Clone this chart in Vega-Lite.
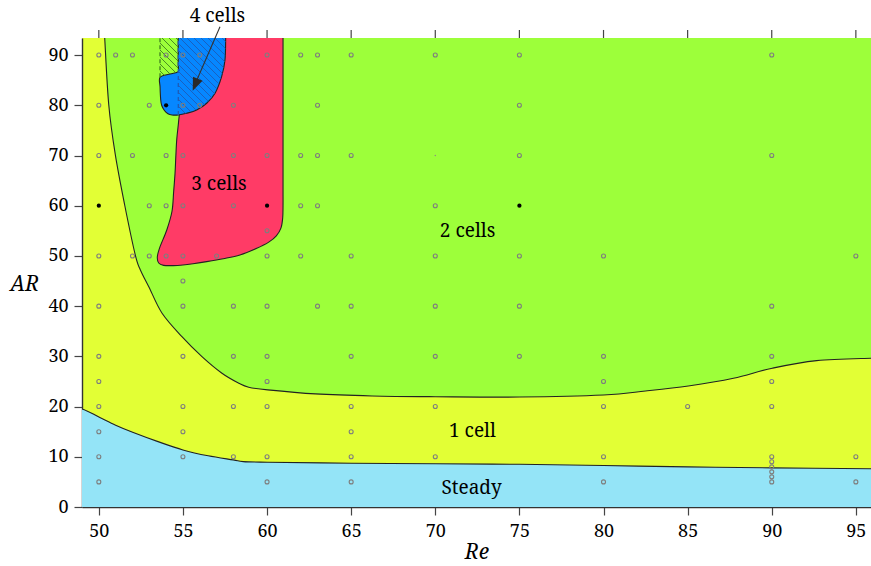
{
  "$schema": "https://vega.github.io/schema/vega-lite/v6.json",
  "autosize": {"type": "none"},
  "padding": {"left": 82, "top": 38, "right": 0, "bottom": 59},
  "width": 789,
  "height": 469,
  "background": "white",
  "config": {
    "view": {"stroke": null, "fill": "#E2FF35"},
    "axis": {"labelFont": "Noto Serif", "labelFontSize": 18, "labelColor": "#000000", "tickColor": "#444444", "tickSize": 8, "tickWidth": 1.2, "domain": true, "domainColor": "#333333", "domainWidth": 1.4, "zindex": 1, "grid": false, "titleFont": "Noto Serif", "titleFontSize": 21, "titleFontStyle": "italic", "titleFontWeight": "normal", "titleColor": "#000000"}
  },
  "datasets": {
    "regions": [
      {"region": "steady", "i": 0, "Re": 48, "AR": -3},
      {"region": "steady", "i": 1, "Re": 48, "AR": 19.9},
      {"region": "steady", "i": 2, "Re": 49, "AR": 19.53},
      {"region": "steady", "i": 3, "Re": 50.03, "AR": 17.88},
      {"region": "steady", "i": 4, "Re": 51, "AR": 16.3},
      {"region": "steady", "i": 5, "Re": 52.01, "AR": 14.89},
      {"region": "steady", "i": 6, "Re": 53.52, "AR": 13.02},
      {"region": "steady", "i": 7, "Re": 55.0, "AR": 11.37},
      {"region": "steady", "i": 8, "Re": 56.5, "AR": 10.2},
      {"region": "steady", "i": 9, "Re": 57.99, "AR": 9.38},
      {"region": "steady", "i": 10, "Re": 58.59, "AR": 9.04},
      {"region": "steady", "i": 11, "Re": 60.04, "AR": 8.92},
      {"region": "steady", "i": 12, "Re": 65.03, "AR": 8.72},
      {"region": "steady", "i": 13, "Re": 70, "AR": 8.6},
      {"region": "steady", "i": 14, "Re": 75, "AR": 8.5},
      {"region": "steady", "i": 15, "Re": 80, "AR": 8.25},
      {"region": "steady", "i": 16, "Re": 85, "AR": 8.0},
      {"region": "steady", "i": 17, "Re": 90, "AR": 7.8},
      {"region": "steady", "i": 18, "Re": 96, "AR": 7.6},
      {"region": "steady", "i": 19, "Re": 98, "AR": 7.6},
      {"region": "steady", "i": 20, "Re": 98, "AR": -3},
      {"region": "green", "i": 0, "Re": 50.31, "AR": 96},
      {"region": "green", "i": 1, "Re": 50.35, "AR": 93.4},
      {"region": "green", "i": 2, "Re": 50.59, "AR": 80.12},
      {"region": "green", "i": 3, "Re": 50.98, "AR": 70.16},
      {"region": "green", "i": 4, "Re": 51.54, "AR": 60.09},
      {"region": "green", "i": 5, "Re": 52.17, "AR": 50.14},
      {"region": "green", "i": 6, "Re": 52.47, "AR": 47.21},
      {"region": "green", "i": 7, "Re": 52.97, "AR": 43.88},
      {"region": "green", "i": 8, "Re": 53.76, "AR": 38.59},
      {"region": "green", "i": 9, "Re": 54.94, "AR": 33.93},
      {"region": "green", "i": 10, "Re": 56.13, "AR": 29.95},
      {"region": "green", "i": 11, "Re": 57.32, "AR": 26.64},
      {"region": "green", "i": 12, "Re": 58.32, "AR": 24.65},
      {"region": "green", "i": 13, "Re": 58.91, "AR": 23.85},
      {"region": "green", "i": 14, "Re": 60.04, "AR": 23.32},
      {"region": "green", "i": 15, "Re": 62.87, "AR": 22.52},
      {"region": "green", "i": 16, "Re": 66.24, "AR": 22.12},
      {"region": "green", "i": 17, "Re": 70, "AR": 21.97},
      {"region": "green", "i": 18, "Re": 75, "AR": 21.9},
      {"region": "green", "i": 19, "Re": 80, "AR": 22.3},
      {"region": "green", "i": 20, "Re": 82.5, "AR": 23.1},
      {"region": "green", "i": 21, "Re": 85.04, "AR": 24.11},
      {"region": "green", "i": 22, "Re": 87.72, "AR": 25.65},
      {"region": "green", "i": 23, "Re": 90.03, "AR": 27.64},
      {"region": "green", "i": 24, "Re": 92.67, "AR": 29.15},
      {"region": "green", "i": 25, "Re": 95.9, "AR": 29.63},
      {"region": "green", "i": 26, "Re": 98, "AR": 29.7},
      {"region": "green", "i": 27, "Re": 98, "AR": 96},
      {"region": "green", "i": 28, "Re": 51, "AR": 96},
      {"region": "red", "i": 0, "Re": 56.3, "AR": 96},
      {"region": "red", "i": 1, "Re": 58.6, "AR": 96},
      {"region": "red", "i": 2, "Re": 60.95, "AR": 96},
      {"region": "red", "i": 3, "Re": 60.95, "AR": 94},
      {"region": "red", "i": 4, "Re": 60.95, "AR": 91},
      {"region": "red", "i": 5, "Re": 60.95, "AR": 87},
      {"region": "red", "i": 6, "Re": 60.95, "AR": 83},
      {"region": "red", "i": 7, "Re": 60.95, "AR": 79},
      {"region": "red", "i": 8, "Re": 60.95, "AR": 75},
      {"region": "red", "i": 9, "Re": 60.95, "AR": 71},
      {"region": "red", "i": 10, "Re": 60.95, "AR": 67},
      {"region": "red", "i": 11, "Re": 60.95, "AR": 63},
      {"region": "red", "i": 12, "Re": 60.95, "AR": 60},
      {"region": "red", "i": 13, "Re": 60.93, "AR": 57.6},
      {"region": "red", "i": 14, "Re": 60.83, "AR": 55.6},
      {"region": "red", "i": 15, "Re": 60.55, "AR": 54.0},
      {"region": "red", "i": 16, "Re": 60.1, "AR": 52.75},
      {"region": "red", "i": 17, "Re": 59.39, "AR": 51.53},
      {"region": "red", "i": 18, "Re": 58.39, "AR": 50.2},
      {"region": "red", "i": 19, "Re": 57.4, "AR": 49.45},
      {"region": "red", "i": 20, "Re": 56.41, "AR": 48.86},
      {"region": "red", "i": 21, "Re": 55.6, "AR": 48.45},
      {"region": "red", "i": 22, "Re": 55.0, "AR": 48.2},
      {"region": "red", "i": 23, "Re": 54.43, "AR": 48.07},
      {"region": "red", "i": 24, "Re": 53.85, "AR": 48.12},
      {"region": "red", "i": 25, "Re": 53.56, "AR": 48.6},
      {"region": "red", "i": 26, "Re": 53.48, "AR": 49.86},
      {"region": "red", "i": 27, "Re": 53.64, "AR": 51.85},
      {"region": "red", "i": 28, "Re": 54.04, "AR": 55.17},
      {"region": "red", "i": 29, "Re": 54.35, "AR": 58.9},
      {"region": "red", "i": 30, "Re": 54.45, "AR": 62.88},
      {"region": "red", "i": 31, "Re": 54.53, "AR": 66.46},
      {"region": "red", "i": 32, "Re": 54.58, "AR": 70},
      {"region": "red", "i": 33, "Re": 54.63, "AR": 73.09},
      {"region": "red", "i": 34, "Re": 54.72, "AR": 76},
      {"region": "red", "i": 35, "Re": 54.83, "AR": 79.06},
      {"region": "red", "i": 36, "Re": 55.2, "AR": 85},
      {"region": "red", "i": 37, "Re": 55.8, "AR": 92},
      {"region": "blue", "i": 0, "Re": 54.72, "AR": 96},
      {"region": "blue", "i": 1, "Re": 57.54, "AR": 96},
      {"region": "blue", "i": 2, "Re": 57.54, "AR": 93.4},
      {"region": "blue", "i": 3, "Re": 57.5, "AR": 89.02},
      {"region": "blue", "i": 4, "Re": 57.3, "AR": 85.69},
      {"region": "blue", "i": 5, "Re": 56.91, "AR": 82.39},
      {"region": "blue", "i": 6, "Re": 56.41, "AR": 80.4},
      {"region": "blue", "i": 7, "Re": 55.82, "AR": 79.07},
      {"region": "blue", "i": 8, "Re": 55.22, "AR": 78.41},
      {"region": "blue", "i": 9, "Re": 54.72, "AR": 78.07},
      {"region": "blue", "i": 10, "Re": 54.35, "AR": 78.07},
      {"region": "blue", "i": 11, "Re": 54.11, "AR": 78.31},
      {"region": "blue", "i": 12, "Re": 53.9, "AR": 78.97},
      {"region": "blue", "i": 13, "Re": 53.74, "AR": 79.96},
      {"region": "blue", "i": 14, "Re": 53.68, "AR": 81.06},
      {"region": "blue", "i": 15, "Re": 53.64, "AR": 83.7},
      {"region": "blue", "i": 16, "Re": 53.64, "AR": 85.58},
      {"region": "blue", "i": 17, "Re": 54.23, "AR": 86.23},
      {"region": "blue", "i": 18, "Re": 54.72, "AR": 86.69},
      {"region": "blue", "i": 19, "Re": 54.72, "AR": 88},
      {"region": "blue", "i": 20, "Re": 54.72, "AR": 93.4}
    ],
    "hatch": [
      {"g": "b", "Re": 57.32, "AR": 93.4, "Re2": 57.535, "AR2": 92.68},
      {"g": "b", "Re": 56.906, "AR": 93.4, "Re2": 57.522, "AR2": 91.33},
      {"g": "b", "Re": 56.49, "AR": 93.4, "Re2": 57.509, "AR2": 89.98},
      {"g": "b", "Re": 56.074, "AR": 93.4, "Re2": 57.481, "AR2": 88.69},
      {"g": "b", "Re": 55.658, "AR": 93.4, "Re2": 57.411, "AR2": 87.53},
      {"g": "b", "Re": 55.242, "AR": 93.4, "Re2": 57.343, "AR2": 86.35},
      {"g": "b", "Re": 54.825, "AR": 93.4, "Re2": 57.253, "AR2": 85.27},
      {"g": "b", "Re": 54.724, "AR": 92.34, "Re2": 57.134, "AR2": 84.28},
      {"g": "b", "Re": 54.724, "AR": 90.95, "Re2": 57.013, "AR2": 83.29},
      {"g": "b", "Re": 54.724, "AR": 89.56, "Re2": 56.887, "AR2": 82.31},
      {"g": "b", "Re": 54.724, "AR": 88.16, "Re2": 56.698, "AR2": 81.55},
      {"g": "b", "Re": 54.724, "AR": 86.77, "Re2": 56.508, "AR2": 80.8},
      {"g": "b", "Re": 54.724, "AR": 85.38, "Re2": 56.291, "AR2": 80.13},
      {"g": "b", "Re": 54.724, "AR": 83.98, "Re2": 56.042, "AR2": 79.56},
      {"g": "b", "Re": 54.724, "AR": 82.59, "Re2": 55.787, "AR2": 79.03},
      {"g": "b", "Re": 54.724, "AR": 81.2, "Re2": 55.473, "AR2": 78.69},
      {"g": "b", "Re": 54.724, "AR": 79.8, "Re2": 55.152, "AR2": 78.37},
      {"g": "g", "Re": 54.588, "AR": 93.4, "Re2": 54.724, "AR2": 92.94},
      {"g": "g", "Re": 54.172, "AR": 93.4, "Re2": 54.724, "AR2": 91.55},
      {"g": "g", "Re": 53.756, "AR": 93.4, "Re2": 54.724, "AR2": 90.15},
      {"g": "g", "Re": 53.637, "AR": 92.4, "Re2": 54.724, "AR2": 88.76},
      {"g": "g", "Re": 53.637, "AR": 91.01, "Re2": 54.724, "AR2": 87.37},
      {"g": "g", "Re": 53.637, "AR": 89.62, "Re2": 54.557, "AR2": 86.54},
      {"g": "g", "Re": 53.637, "AR": 88.22, "Re2": 54.231, "AR2": 86.23},
      {"g": "g", "Re": 53.637, "AR": 86.83, "Re2": 53.918, "AR2": 85.89}
    ],
    "dashes": [
      {"g": "b", "Re": 54.724, "AR": 78.07, "AR2": 93.4},
      {"g": "g", "Re": 53.637, "AR": 85.58, "AR2": 93.4}
    ],
    "ticks": [
      {"Re": 50}, {"Re": 55}, {"Re": 60}, {"Re": 65}, {"Re": 70}, {"Re": 75}, {"Re": 80}, {"Re": 85}, {"Re": 90}, {"Re": 95}
    ],
    "points": [
      {"Re": 50, "AR": 90, "kind": "open"}, {"Re": 51, "AR": 90, "kind": "open"}, {"Re": 52, "AR": 90, "kind": "open"}, {"Re": 54, "AR": 90, "kind": "open"}, {"Re": 55, "AR": 90, "kind": "open"}, {"Re": 56, "AR": 90, "kind": "open"}, {"Re": 60, "AR": 90, "kind": "open"}, {"Re": 62, "AR": 90, "kind": "open"}, {"Re": 63, "AR": 90, "kind": "open"}, {"Re": 65, "AR": 90, "kind": "open"}, {"Re": 70, "AR": 90, "kind": "open"}, {"Re": 75, "AR": 90, "kind": "open"}, {"Re": 90, "AR": 90, "kind": "open"},
      {"Re": 50, "AR": 80, "kind": "open"}, {"Re": 53, "AR": 80, "kind": "open"}, {"Re": 54, "AR": 80, "kind": "solid"}, {"Re": 55, "AR": 80, "kind": "open"}, {"Re": 56, "AR": 80, "kind": "open"}, {"Re": 58, "AR": 80, "kind": "open"}, {"Re": 63, "AR": 80, "kind": "open"}, {"Re": 75, "AR": 80, "kind": "open"},
      {"Re": 50, "AR": 70, "kind": "open"}, {"Re": 52, "AR": 70, "kind": "open"}, {"Re": 54, "AR": 70, "kind": "open"}, {"Re": 55, "AR": 70, "kind": "open"}, {"Re": 58, "AR": 70, "kind": "open"}, {"Re": 60, "AR": 70, "kind": "open"}, {"Re": 62, "AR": 70, "kind": "open"}, {"Re": 63, "AR": 70, "kind": "open"}, {"Re": 65, "AR": 70, "kind": "open"}, {"Re": 70, "AR": 70, "kind": "tiny"}, {"Re": 75, "AR": 70, "kind": "open"}, {"Re": 90, "AR": 70, "kind": "open"},
      {"Re": 50, "AR": 60, "kind": "solid"}, {"Re": 53, "AR": 60, "kind": "open"}, {"Re": 54, "AR": 60, "kind": "open"}, {"Re": 55, "AR": 60, "kind": "open"}, {"Re": 58, "AR": 60, "kind": "open"}, {"Re": 60, "AR": 60, "kind": "solid"}, {"Re": 62, "AR": 60, "kind": "open"}, {"Re": 63, "AR": 60, "kind": "open"}, {"Re": 70, "AR": 60, "kind": "open"}, {"Re": 75, "AR": 60, "kind": "solid"},
      {"Re": 60, "AR": 55, "kind": "open"},
      {"Re": 50, "AR": 50, "kind": "open"}, {"Re": 52, "AR": 50, "kind": "open"}, {"Re": 53, "AR": 50, "kind": "open"}, {"Re": 54, "AR": 50, "kind": "open"}, {"Re": 55, "AR": 50, "kind": "open"}, {"Re": 57, "AR": 50, "kind": "open"}, {"Re": 60, "AR": 50, "kind": "open"}, {"Re": 62, "AR": 50, "kind": "open"}, {"Re": 65, "AR": 50, "kind": "open"}, {"Re": 70, "AR": 50, "kind": "open"}, {"Re": 75, "AR": 50, "kind": "open"}, {"Re": 80, "AR": 50, "kind": "open"}, {"Re": 95, "AR": 50, "kind": "open"},
      {"Re": 55, "AR": 45, "kind": "open"},
      {"Re": 50, "AR": 40, "kind": "open"}, {"Re": 55, "AR": 40, "kind": "open"}, {"Re": 58, "AR": 40, "kind": "open"}, {"Re": 60, "AR": 40, "kind": "open"}, {"Re": 63, "AR": 40, "kind": "open"}, {"Re": 65, "AR": 40, "kind": "open"}, {"Re": 70, "AR": 40, "kind": "open"}, {"Re": 75, "AR": 40, "kind": "open"}, {"Re": 90, "AR": 40, "kind": "open"},
      {"Re": 50, "AR": 30, "kind": "open"}, {"Re": 55, "AR": 30, "kind": "open"}, {"Re": 58, "AR": 30, "kind": "open"}, {"Re": 60, "AR": 30, "kind": "open"}, {"Re": 65, "AR": 30, "kind": "open"}, {"Re": 70, "AR": 30, "kind": "open"}, {"Re": 75, "AR": 30, "kind": "open"}, {"Re": 80, "AR": 30, "kind": "open"}, {"Re": 90, "AR": 30, "kind": "open"},
      {"Re": 50, "AR": 25, "kind": "open"}, {"Re": 60, "AR": 25, "kind": "open"}, {"Re": 80, "AR": 25, "kind": "open"}, {"Re": 90, "AR": 25, "kind": "open"},
      {"Re": 50, "AR": 20, "kind": "open"}, {"Re": 55, "AR": 20, "kind": "open"}, {"Re": 58, "AR": 20, "kind": "open"}, {"Re": 60, "AR": 20, "kind": "open"}, {"Re": 65, "AR": 20, "kind": "open"}, {"Re": 70, "AR": 20, "kind": "open"}, {"Re": 80, "AR": 20, "kind": "open"}, {"Re": 85, "AR": 20, "kind": "open"}, {"Re": 90, "AR": 20, "kind": "open"},
      {"Re": 50, "AR": 15, "kind": "open"}, {"Re": 55, "AR": 15, "kind": "open"}, {"Re": 65, "AR": 15, "kind": "open"},
      {"Re": 50, "AR": 10, "kind": "open"}, {"Re": 55, "AR": 10, "kind": "open"}, {"Re": 58, "AR": 10, "kind": "open"}, {"Re": 60, "AR": 10, "kind": "open"}, {"Re": 65, "AR": 10, "kind": "open"}, {"Re": 70, "AR": 10, "kind": "open"}, {"Re": 80, "AR": 10, "kind": "open"}, {"Re": 90, "AR": 10, "kind": "open"}, {"Re": 95, "AR": 10, "kind": "open"},
      {"Re": 90, "AR": 9, "kind": "open"}, {"Re": 90, "AR": 8, "kind": "open"}, {"Re": 90, "AR": 7, "kind": "open"}, {"Re": 90, "AR": 6, "kind": "open"},
      {"Re": 50, "AR": 5, "kind": "open"}, {"Re": 60, "AR": 5, "kind": "open"}, {"Re": 65, "AR": 5, "kind": "open"}, {"Re": 80, "AR": 5, "kind": "open"}, {"Re": 90, "AR": 5, "kind": "open"}, {"Re": 95, "AR": 5, "kind": "open"}
    ],
    "labels": [
      {"text": "4 cells", "Re": 57.05, "AR": 96.65},
      {"text": "3 cells", "Re": 57.14, "AR": 63.2},
      {"text": "2 cells", "Re": 71.92, "AR": 53.78},
      {"text": "1 cell", "Re": 72.21, "AR": 13.96},
      {"text": "Steady", "Re": 72.16, "AR": 2.61}
    ],
    "arrow": [
      {"Re": 57.203, "AR": 95.65, "Re2": 55.68, "AR2": 83.9, "ReTip": 55.58, "ARTip": 82.91}
    ]
  },
  "layer": [
    {
      "data": {"name": "regions"},
      "transform": [{"filter": "datum.region === 'green'"}],
      "mark": {"type": "line", "interpolate": "cardinal-closed", "fill": "#9DFF3A", "stroke": "#222222", "strokeWidth": 1.1, "clip": true},
      "encoding": {
        "x": {"field": "Re", "type": "quantitative", "scale": {"domain": [49, 95.9], "nice": false, "zero": false},
          "axis": {"values": [50, 55, 60, 65, 70, 75, 80, 85, 90, 95], "title": "Re", "labelPadding": 7, "titleY": 51, "titleBaseline": "alphabetic"}},
        "y": {"field": "AR", "type": "quantitative", "scale": {"domain": [0, 93.4], "nice": false, "zero": false},
          "axis": {"values": [0, 10, 20, 30, 40, 50, 60, 70, 80, 90], "title": "AR", "labelPadding": 6, "titleAngle": 0, "titleAlign": "center", "titleBaseline": "alphabetic", "titleX": -58, "titleY": 252}},
        "order": {"field": "i", "type": "quantitative"}
      }
    },
    {
      "data": {"name": "regions"},
      "transform": [{"filter": "datum.region === 'steady'"}],
      "mark": {"type": "line", "interpolate": "cardinal-closed", "fill": "#94E4F7", "stroke": "#222222", "strokeWidth": 1.1, "clip": true},
      "encoding": {
        "x": {"field": "Re", "type": "quantitative"},
        "y": {"field": "AR", "type": "quantitative"},
        "order": {"field": "i", "type": "quantitative"}
      }
    },
    {
      "data": {"name": "regions"},
      "transform": [{"filter": "datum.region === 'red'"}],
      "mark": {"type": "line", "interpolate": "cardinal-closed", "fill": "#FF3B66", "stroke": "#222222", "strokeWidth": 1.1, "clip": true},
      "encoding": {
        "x": {"field": "Re", "type": "quantitative"},
        "y": {"field": "AR", "type": "quantitative"},
        "order": {"field": "i", "type": "quantitative"}
      }
    },
    {
      "data": {"name": "regions"},
      "transform": [{"filter": "datum.region === 'blue'"}],
      "mark": {"type": "line", "interpolate": "cardinal-closed", "fill": "#0687FF", "stroke": "#222222", "strokeWidth": 1.1, "clip": true},
      "encoding": {
        "x": {"field": "Re", "type": "quantitative"},
        "y": {"field": "AR", "type": "quantitative"},
        "order": {"field": "i", "type": "quantitative"}
      }
    },
    {
      "data": {"name": "hatch"},
      "mark": {"type": "rule", "strokeWidth": 0.9, "clip": true},
      "encoding": {
        "x": {"field": "Re", "type": "quantitative"},
        "y": {"field": "AR", "type": "quantitative"},
        "x2": {"field": "Re2"},
        "y2": {"field": "AR2"},
        "color": {"field": "g", "type": "nominal", "scale": {"domain": ["b", "g"], "range": ["#1E5CB8", "#3F7F1E"]}, "legend": null}
      }
    },
    {
      "data": {"name": "dashes"},
      "mark": {"type": "rule", "strokeWidth": 1.3, "strokeDash": [4, 3], "clip": true},
      "encoding": {
        "x": {"field": "Re", "type": "quantitative"},
        "y": {"field": "AR", "type": "quantitative"},
        "y2": {"field": "AR2"},
        "color": {"field": "g", "type": "nominal", "scale": {"domain": ["b", "g"], "range": ["#1E5CB8", "#3F7F1E"]}, "legend": null}
      }
    },
    {
      "data": {"name": "points"},
      "transform": [{"filter": "datum.kind === 'open'"}],
      "mark": {"type": "point", "shape": "circle", "filled": false, "stroke": "#7E7E7E", "strokeWidth": 1.1, "size": 16, "opacity": 1},
      "encoding": {
        "x": {"field": "Re", "type": "quantitative"},
        "y": {"field": "AR", "type": "quantitative"}
      }
    },
    {
      "data": {"name": "points"},
      "transform": [{"filter": "datum.kind === 'tiny'"}],
      "mark": {"type": "circle", "color": "#8A8A8A", "size": 2, "opacity": 1},
      "encoding": {
        "x": {"field": "Re", "type": "quantitative"},
        "y": {"field": "AR", "type": "quantitative"}
      }
    },
    {
      "data": {"name": "points"},
      "transform": [{"filter": "datum.kind === 'solid'"}],
      "mark": {"type": "circle", "color": "#000000", "size": 18, "opacity": 1},
      "encoding": {
        "x": {"field": "Re", "type": "quantitative"},
        "y": {"field": "AR", "type": "quantitative"}
      }
    },
    {
      "data": {"name": "labels"},
      "mark": {"type": "text", "font": "Noto Serif", "fontSize": 19, "color": "#000000", "align": "center", "baseline": "alphabetic"},
      "encoding": {"x": {"field": "Re", "type": "quantitative"}, "y": {"field": "AR", "type": "quantitative"}, "text": {"field": "text"}}
    },
    {
      "data": {"name": "arrow"},
      "mark": {"type": "rule", "color": "#333333", "strokeWidth": 1.1},
      "encoding": {
        "x": {"field": "Re", "type": "quantitative"},
        "y": {"field": "AR", "type": "quantitative"},
        "x2": {"field": "Re2"},
        "y2": {"field": "AR2"}
      }
    },
    {
      "data": {"name": "arrow"},
      "mark": {"type": "point", "shape": "M0,0L-0.4,-1L0.4,-1Z", "filled": true, "color": "#2A2A2A", "opacity": 1, "size": 676, "angle": 23},
      "encoding": {
        "x": {"field": "ReTip", "type": "quantitative"},
        "y": {"field": "ARTip", "type": "quantitative"}
      }
    },
    {
      "mark": {"type": "rule", "color": "#333333", "strokeWidth": 1.4},
      "encoding": {"y": {"datum": 93.4, "type": "quantitative"}}
    },
    {
      "data": {"name": "ticks"},
      "mark": {"type": "rule", "color": "#444444", "strokeWidth": 1.2},
      "encoding": {
        "x": {"field": "Re", "type": "quantitative"},
        "y": {"datum": 93.4, "type": "quantitative"},
        "y2": {"datum": 95.0}
      }
    }
  ]
}
